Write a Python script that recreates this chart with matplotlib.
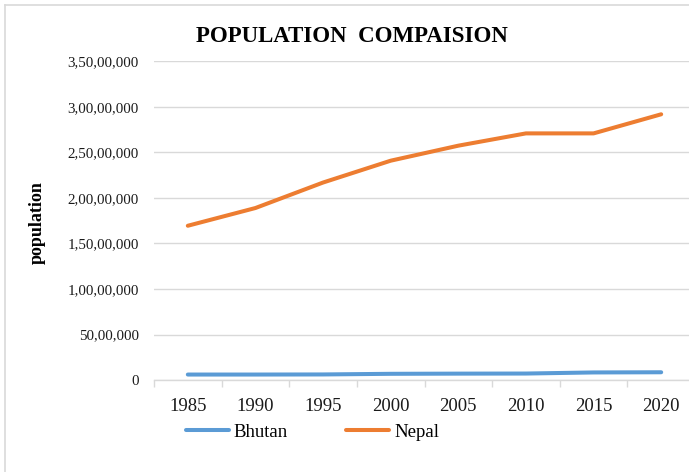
import numpy as np
import matplotlib
matplotlib.use("Agg")
import matplotlib.pyplot as plt
from matplotlib.lines import Line2D
from matplotlib.ticker import FuncFormatter, MultipleLocator

plt.rcParams['font.family'] = ['Liberation Serif', 'DejaVu Serif']

# data
years = ['1985', '1990', '1995', '2000', '2005', '2010', '2015', '2020']
bhutan = [600000, 600000, 610000, 680000, 700000, 710000, 830000, 850000]
nepal = [16950000, 18900000, 21700000, 24100000, 25750000, 27100000, 27100000, 29200000]


# indian style grouping: 3,50,00,000
def indian(v, pos=None):
    v = int(round(v))
    if v == 0:
        return '0'
    s = str(v)
    last3 = s[-3:]
    rest = s[:-3]
    groups = []
    while len(rest) > 2:
        groups.insert(0, rest[-2:])
        rest = rest[:-2]
    if rest:
        groups.insert(0, rest)
    return ','.join(groups + [last3])


fig = plt.figure(figsize=(6.89, 4.72), dpi=100)
ax = fig.add_axes([154/689, 1 - 380/472, 541/689, (380 - 61.5)/472])

x = np.arange(len(years))
ax.plot(x, bhutan, color='#5B9BD5', lw=2.9, solid_capstyle='round', solid_joinstyle='round')
ax.plot(x, nepal, color='#ED7D31', lw=2.9, solid_capstyle='round', solid_joinstyle='round')

ax.set_xlim(-0.5, len(years) - 0.5)
ax.set_ylim(0, 35000000)
ax.yaxis.set_major_locator(MultipleLocator(5000000))
ax.yaxis.set_major_formatter(FuncFormatter(indian))
ax.grid(axis='y', color='#d9d9d9', lw=1)
ax.set_axisbelow(True)

ax.set_xticks(x)
ax.set_xticklabels(years)
ax.set_xticks(np.arange(-0.5, len(years)), minor=True)
ax.tick_params(axis='x', which='major', length=0, pad=13, labelsize=13.5, labelcolor='#1a1a1a')
ax.tick_params(axis='x', which='minor', length=5, width=1, color='#d9d9d9')
ax.tick_params(axis='y', length=0, pad=11, labelsize=10.8, labelcolor='#1a1a1a')

for side in ['top', 'right', 'left']:
    ax.spines[side].set_visible(False)
ax.spines['bottom'].set_color('#d9d9d9')
ax.spines['bottom'].set_linewidth(1)

fig.text(352/689, 1 - 36/472, 'POPULATION  COMPAISION', ha='center', va='center',
         fontsize=16.5, fontweight='bold')
fig.text(37.5/689, 1 - 223/472, 'population', ha='center', va='center', rotation=90,
         fontsize=13, fontweight='bold')

handles = [Line2D([], [], color='#5B9BD5', lw=2.9, solid_capstyle='round'),
           Line2D([], [], color='#ED7D31', lw=2.9, solid_capstyle='round')]
fig.legend(handles, ['Bhutan', 'Nepal'], loc='center left', bbox_to_anchor=(186/689, 1 - 432/472),
           ncol=2, frameon=False, fontsize=13.5, handlelength=2.3, handletextpad=0.25,
           columnspacing=3.1, borderaxespad=0, borderpad=0)

# chart border (left and top edges visible)
fig.add_artist(Line2D([5/689, 5/689], [0, 1 - 5/472], color='#d9d9d9', lw=1.2))
fig.add_artist(Line2D([5/689, 1], [1 - 5/472, 1 - 5/472], color='#d9d9d9', lw=1.2))

fig.savefig('out.png', dpi=100)
